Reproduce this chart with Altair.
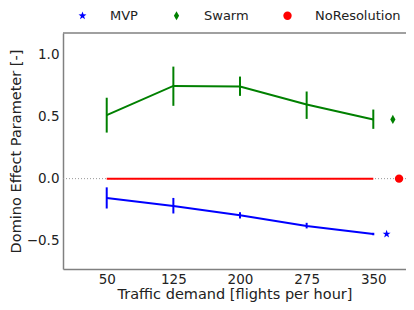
import altair as alt
import pandas as pd

demand = [50, 125, 200, 275, 350]
swarm = [0.51, 0.745, 0.74, 0.595, 0.475]
swarm_lo = [0.37, 0.585, 0.665, 0.48, 0.40]
swarm_hi = [0.65, 0.90, 0.82, 0.70, 0.555]
mvp = [-0.155, -0.22, -0.295, -0.38, -0.445]
mvp_lo = [-0.24, -0.28, -0.32, -0.40, -0.455]
mvp_hi = [-0.07, -0.155, -0.27, -0.355, -0.435]
nores = [0.0, 0.0, 0.0, 0.0, 0.0]

series_names = ["MVP", "Swarm", "NoResolution"]
series_colors = ["#0000ff", "#008000", "#ff0000"]
marker_x = [365, 372, 379]
marker_y = [-0.445, 0.476, 0.0]

xdom = [0.8, 386.8]
ydom = [-0.726, 1.17]
xs = alt.Scale(domain=xdom, nice=False, zero=False)
ys = alt.Scale(domain=ydom, nice=False, zero=False)
cs = alt.Scale(domain=series_names, range=series_colors)
shp = alt.Scale(domain=series_names,
                range=["M0,-1L0.24,-0.33L0.95,-0.31L0.38,0.12L0.59,0.81L0,0.4L-0.59,0.81L-0.38,0.12L-0.95,-0.31L-0.24,-0.33Z",
                       "M0,-1.1L0.62,0L0,1.1L-0.62,0Z", "circle"])

X = alt.X("x:Q", scale=xs, title="Traffic demand [flights per hour]",
          axis=alt.Axis(values=demand, format="d", grid=False, tickSize=0,
                        labelPadding=3, titlePadding=2))
Y = alt.Y("y:Q", scale=ys, title="Domino Effect Parameter [-]",
          axis=alt.Axis(values=[-0.5, 0.0, 0.5, 1.0], format=".1f", grid=False,
                        tickSize=0, labelPadding=4, titlePadding=3))

layers = []
layers.append(alt.Chart(pd.DataFrame({"z": [0.0]})).mark_rule(
    color="#999999", strokeWidth=1, strokeDash=[1, 2]).encode(y=alt.Y("z:Q", scale=ys)))
layers.append(alt.Chart(pd.DataFrame({"t": [ydom[1]]})).mark_rule(
    color="#808080", strokeWidth=1.5).encode(y=alt.Y("t:Q", scale=ys)))

for name, col, vals, lo, hi in [("MVP", series_colors[0], mvp, mvp_lo, mvp_hi),
                                ("Swarm", series_colors[1], swarm, swarm_lo, swarm_hi),
                                ("NoResolution", series_colors[2], nores, nores, nores)]:
    d = pd.DataFrame({"x": demand, "y": vals, "lo": lo, "hi": hi})
    layers.append(alt.Chart(d).mark_line(strokeWidth=2, color=col).encode(x=X, y=Y))
    if name != "NoResolution":
        layers.append(alt.Chart(d).mark_rule(strokeWidth=2, color=col).encode(
            x=alt.X("x:Q", scale=xs), y=alt.Y("lo:Q", scale=ys), y2="hi:Q"))

mk = pd.DataFrame({"series": series_names, "x": marker_x, "y": marker_y})
leg = alt.Legend(title=None, orient="none", direction="horizontal",
                 legendX=13, legendY=-24, labelFontSize=13,
                 labelOffset=21, columnPadding=32, symbolSize=70,
                 labelColor="#222222")
layers.append(alt.Chart(mk).mark_point(filled=True, size=70, opacity=1).encode(
    x=alt.X("x:Q", scale=xs), y=alt.Y("y:Q", scale=ys),
    color=alt.Color("series:N", scale=cs, sort=series_names, legend=leg),
    shape=alt.Shape("series:N", scale=shp, sort=series_names, legend=leg)))

chart = alt.layer(*layers).properties(
    width=343, height=236,
    autosize=alt.AutoSizeParams(type="none"),
    padding={"left": 55, "top": 25, "right": 0, "bottom": 35},
).configure(font="DejaVu Sans").configure_view(stroke=None).configure_axis(
    domainColor="#808080", domainWidth=1.5, labelFontSize=13.5, titleFontSize=14.5,
    labelColor="#222222", titleColor="#222222", titleFontWeight="normal")

chart.save("out.html", embed_options={"renderer": "svg", "actions": False})
